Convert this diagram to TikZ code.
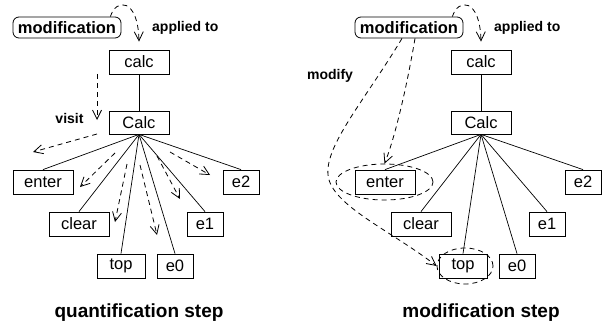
\documentclass[tikz,border=0pt]{standalone}
\usepackage{fontspec}
\setmainfont{Liberation Sans}
\usetikzlibrary{arrows.meta,shapes.geometric}
\begin{document}
\begin{tikzpicture}[x=1pt,y=-1pt,
  box/.style={draw,line width=0.8pt,inner sep=0pt,minimum height=24pt,font=\fontsize{16.5}{18}\selectfont},
  modbox/.style={draw,line width=0.8pt,rounded corners=6pt,inner sep=0pt,minimum width=108pt,minimum height=21pt,font=\bfseries\fontsize{16.5}{18}\selectfont},
  tree/.style={line width=0.7pt},
  darr/.style={line width=0.8pt,dash pattern=on 5pt off 4pt,-{Straight Barb[length=9pt,width=9pt]}},
  lbl/.style={font=\bfseries\fontsize{14}{16}\selectfont,inner sep=0pt},
  captxt/.style={font=\bfseries\fontsize{19}{22}\selectfont,inner sep=0pt},
  dell/.style={draw,ellipse,dash pattern=on 5pt off 4pt,line width=0.8pt,inner sep=0pt}]
\useasboundingbox (0,0) rectangle (605,329);

% ---------- left panel: quantification step ----------
\node[modbox] (mA) at (67,27.5) {modification};
\node[box,minimum width=60pt] (calcA) at (139,62) {calc};
\node[box,minimum width=60pt,minimum height=23pt] (CalcA) at (139,122.5) {Calc};
\node[box,minimum width=60pt] (enterA) at (43,182) {enter};
\node[box,minimum width=60pt] (clearA) at (79,224) {clear};
\node[box,minimum width=48pt] (topA) at (121,266) {top};
\node[box,minimum width=36pt] (e0A) at (175,266) {e0};
\node[box,minimum width=36pt] (e1A) at (205,224) {e1};
\node[box,minimum width=36pt] (e2A) at (241,182) {e2};

\draw[tree] (calcA) -- (CalcA);
\foreach \n in {enterA,clearA,topA,e0A,e1A,e2A}
  \draw[tree] (CalcA.south) -- (\n.north);

\draw[darr] ([xshift=-11pt]mA.north east) .. controls (116,-2) and (138,-2) .. ([yshift=8pt]calcA.north);
\node[lbl,anchor=west] (apA) at (152,27.5) {applied to};

\coordinate (v1) at (97,74);
\coordinate (v2) at (97,120);
\draw[darr] (v1) -- (v2);
\node[lbl] (visitA) at (69.5,118) {visit};

\coordinate (s0) at (97,134);  \coordinate (t0) at (33,152);
\coordinate (s1) at (115,153); \coordinate (t1) at (80,187);
\coordinate (s2) at (127,164); \coordinate (t2) at (115,222);
\coordinate (s3) at (140,165); \coordinate (t3) at (157,235);
\coordinate (s4) at (157,156); \coordinate (t4) at (180,199);
\coordinate (s5) at (170,152); \coordinate (t5) at (210,175);
\foreach \i in {0,...,5} \draw[darr] (s\i) -- (t\i);

\node[captxt] (capA) at (139,313) {quantification step};

% ---------- right panel: modification step ----------
\node[dell,minimum width=97pt,minimum height=36pt] (ellEnter) at (384.5,182) {};
\node[dell,minimum width=56pt,minimum height=36pt] (ellTop) at (465,266) {};

\node[modbox] (mB) at (409,27.5) {modification};
\node[box,minimum width=60pt] (calcB) at (481,62) {calc};
\node[box,minimum width=60pt,minimum height=23pt] (CalcB) at (481,122.5) {Calc};
\node[box,minimum width=60pt] (enterB) at (385,182) {enter};
\node[box,minimum width=60pt] (clearB) at (421,224) {clear};
\node[box,minimum width=48pt] (topB) at (463,266) {top};
\node[box,minimum width=36pt] (e0B) at (517,266) {e0};
\node[box,minimum width=36pt] (e1B) at (547,224) {e1};
\node[box,minimum width=36pt] (e2B) at (583,182) {e2};

\draw[tree] (calcB) -- (CalcB);
\foreach \n in {enterB,clearB,topB,e0B,e1B,e2B}
  \draw[tree] (CalcB.south) -- (\n.north);

\draw[darr] ([xshift=-11pt]mB.north east) .. controls (458,-2) and (480,-2) .. ([yshift=8pt]calcB.north);
\node[lbl,anchor=west] (apB) at (494,27.5) {applied to};

\node[lbl] (modifyB) at (330,76) {modify};
\draw[darr] ([xshift=6pt]mB.south) .. controls (408,80) and (396,135) .. (ellEnter.north);
\draw[darr] ([xshift=-7pt]mB.south) .. controls (365,100) and (325,145) .. (328,175)
   .. controls (331,205) and (390,230) .. (ellTop.west);

\node[captxt] (capB) at (481,313) {modification step};
\end{tikzpicture}
\end{document}
